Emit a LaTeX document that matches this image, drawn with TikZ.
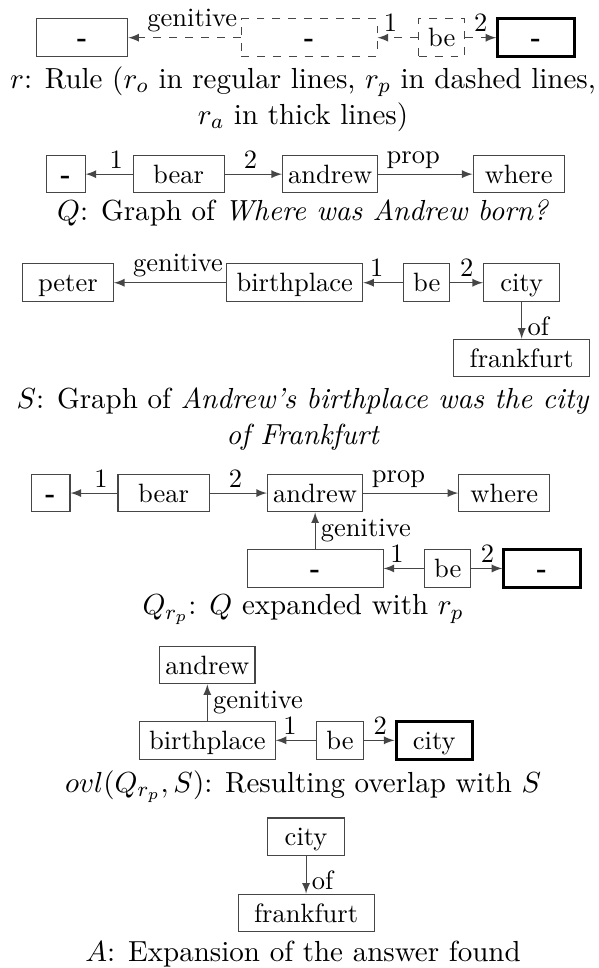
\documentclass[tikz,border=0pt]{standalone}
\usepackage{xcolor}
\usepackage{tikz}
\usetikzlibrary{arrows, positioning}
\definecolor{linegray}{RGB}{70,70,70}

\begin{document}
\begin{tikzpicture}[
        box/.style={draw=linegray, rectangle, inner xsep=2pt, minimum height=14.2pt, minimum width=34.4pt, text height=6.9pt, text depth=0pt},
        answer/.style={box, draw=black, very thick},
        edge/.style={draw=linegray, -latex},
        lbl/.style={above, inner sep=2pt},
        lblr/.style={right, inner sep=2pt},
        caption/.style={font=\fontsize{10.95}{13.6}\selectfont, align=center}
    ]
        \useasboundingbox (0,0) rectangle (7.945,-12.84);

        % Rule r
        \node[box] (r1) at (1.09,-0.50) {\textbf{-}};
        \node[box, dashed, minimum width=51.3pt] (r2) at (4.10,-0.50) {\textbf{-}};
        \node[box, dashed, minimum width=17.4pt] (r3) at (5.86,-0.50) {be};
        \node[answer, minimum width=28.8pt] (r4) at (7.11,-0.50) {\textbf{-}};
        \draw[edge, dashed] (r2) -- node[lbl, pos=0.43] {genitive} (r1);
        \draw[edge, dashed] (r3) -- node[lbl, pos=0.68] {1} (r2);
        \draw[edge, dashed] (r3) -- node[lbl, pos=0.5] {2} (r4);
        \node[caption] (cr) at (4.02,-1.31) {$r$: Rule ($r_o$ in regular lines, $r_p$ in dashed lines,\\ $r_a$ in thick lines)};

        % Question graph Q
        \node[box, minimum width=14.7pt] (q1) at (0.87,-2.31) {\textbf{-}};
        \node[box] (q2) at (2.37,-2.31) {bear};
        \node[box, minimum width=36pt] (q3) at (4.38,-2.31) {andrew};
        \node[box] (q4) at (6.88,-2.31) {where};
        \draw[edge] (q2) -- node[lbl, pos=0.35] {1} (q1);
        \draw[edge] (q2) -- node[lbl, pos=0.45] {2} (q3);
        \draw[edge] (q3) -- node[lbl, pos=0.37] {prop} (q4);
        \node[caption] (cq) at (4.02,-2.82) {$Q$: Graph of \emph{Where was Andrew born?}};

        % Sentence graph S
        \node[box] (s1) at (0.90,-3.75) {peter};
        \node[box, minimum width=51.3pt] (s2) at (3.91,-3.75) {birthplace};
        \node[box, minimum width=17.4pt] (s3) at (5.66,-3.75) {be};
        \node[box, minimum width=28.8pt] (s4) at (6.92,-3.75) {city};
        \node[box, minimum width=51.3pt] (s5) at (6.92,-4.75) {frankfurt};
        \draw[edge] (s2) -- node[lbl, pos=0.43] {genitive} (s1);
        \draw[edge] (s3) -- node[lbl, pos=0.66] {1} (s2);
        \draw[edge] (s3) -- node[lbl, pos=0.5] {2} (s4);
        \draw[edge] (s4) -- node[lblr, pos=0.65] {of} (s5);
        \node[caption] (cs) at (4.02,-5.56) {$S$: Graph of \emph{Andrew's birthplace was the city}\\ \emph{of Frankfurt}};

        % Q expanded with r_p
        \node[box, minimum width=14.7pt] (e1) at (0.67,-6.54) {\textbf{-}};
        \node[box] (e2) at (2.17,-6.54) {bear};
        \node[box, minimum width=36pt] (e3) at (4.18,-6.54) {andrew};
        \node[box] (e4) at (6.69,-6.54) {where};
        \node[box, minimum width=51.3pt] (e5) at (4.18,-7.54) {\textbf{-}};
        \node[box, minimum width=17.4pt] (e6) at (5.94,-7.54) {be};
        \node[answer, minimum width=28.8pt] (e7) at (7.19,-7.54) {\textbf{-}};
        \draw[edge] (e2) -- node[lbl, pos=0.35] {1} (e1);
        \draw[edge] (e2) -- node[lbl, pos=0.45] {2} (e3);
        \draw[edge] (e3) -- node[lbl, pos=0.37] {prop} (e4);
        \draw[edge] (e5) -- node[lblr, pos=0.5] {genitive} (e3);
        \draw[edge] (e6) -- node[lbl, pos=0.67] {1} (e5);
        \draw[edge] (e6) -- node[lbl, pos=0.52] {2} (e7);
        \node[caption] (cx) at (4.02,-8.09) {$Q_{r_p}$: $Q$ expanded with $r_p$};

        % Overlap with S
        \node[box, minimum width=36pt] (o1) at (2.75,-8.82) {andrew};
        \node[box, minimum width=51.3pt] (o2) at (2.75,-9.82) {birthplace};
        \node[box, minimum width=17.4pt] (o3) at (4.51,-9.82) {be};
        \node[answer, minimum width=28.8pt] (o4) at (5.76,-9.82) {city};
        \draw[edge] (o2) -- node[lblr, pos=0.5] {genitive} (o1);
        \draw[edge] (o3) -- node[lbl, pos=0.65] {1} (o2);
        \draw[edge] (o3) -- node[lbl, pos=0.54] {2} (o4);
        \node[caption] (co) at (4.02,-10.43) {$ovl(Q_{r_p},S)$: Resulting overlap with $S$};

        % Answer expansion A
        \node[box, minimum width=28.8pt] (n1) at (4.06,-11.10) {city};
        \node[box, minimum width=51.3pt] (n2) at (4.06,-12.11) {frankfurt};
        \draw[edge] (n1) -- node[lblr, pos=0.65] {of} (n2);
        \node[caption] (ca) at (4.02,-12.65) {$A$: Expansion of the answer found};

    \end{tikzpicture}
\end{document}
